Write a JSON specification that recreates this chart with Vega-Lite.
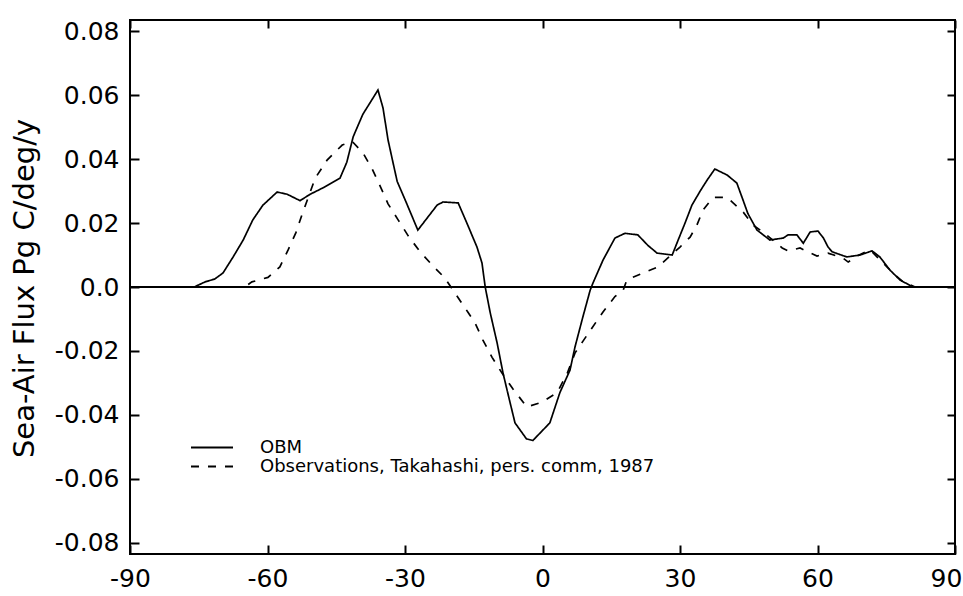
{
  "$schema": "https://vega.github.io/schema/vega-lite/v6.json",
  "width": 825,
  "height": 534,
  "autosize": {"type": "none"},
  "padding": {"left": 130, "top": 20, "right": 8, "bottom": 42},
  "background": "white",
  "config": {
    "view": {"stroke": "black", "strokeWidth": 2},
    "font": "DejaVu Sans"
  },
  "datasets": {
    "curves": [
      {"lat": -90, "flux": 0, "series": "OBM"},
      {"lat": -76, "flux": 0, "series": "OBM"},
      {"lat": -73.6, "flux": 0.0016, "series": "OBM"},
      {"lat": -71.5, "flux": 0.0025, "series": "OBM"},
      {"lat": -69.7, "flux": 0.0044, "series": "OBM"},
      {"lat": -67.5, "flux": 0.0094, "series": "OBM"},
      {"lat": -65.3, "flux": 0.0147, "series": "OBM"},
      {"lat": -63.2, "flux": 0.021, "series": "OBM"},
      {"lat": -61, "flux": 0.0256, "series": "OBM"},
      {"lat": -57.9, "flux": 0.0297, "series": "OBM"},
      {"lat": -55.7, "flux": 0.029, "series": "OBM"},
      {"lat": -52.9, "flux": 0.027, "series": "OBM"},
      {"lat": -50.7, "flux": 0.029, "series": "OBM"},
      {"lat": -47.9, "flux": 0.031, "series": "OBM"},
      {"lat": -44.2, "flux": 0.034, "series": "OBM"},
      {"lat": -42.7, "flux": 0.039, "series": "OBM"},
      {"lat": -41.3, "flux": 0.047, "series": "OBM"},
      {"lat": -39.2, "flux": 0.054, "series": "OBM"},
      {"lat": -35.9, "flux": 0.0616, "series": "OBM"},
      {"lat": -34.8, "flux": 0.056, "series": "OBM"},
      {"lat": -33.7, "flux": 0.046, "series": "OBM"},
      {"lat": -32.6, "flux": 0.0388, "series": "OBM"},
      {"lat": -31.7, "flux": 0.033, "series": "OBM"},
      {"lat": -29.6, "flux": 0.026, "series": "OBM"},
      {"lat": -27.2, "flux": 0.0178, "series": "OBM"},
      {"lat": -23, "flux": 0.0256, "series": "OBM"},
      {"lat": -21.7, "flux": 0.0266, "series": "OBM"},
      {"lat": -18.4, "flux": 0.0263, "series": "OBM"},
      {"lat": -16.5, "flux": 0.02, "series": "OBM"},
      {"lat": -14.3, "flux": 0.0125, "series": "OBM"},
      {"lat": -13.2, "flux": 0.0075, "series": "OBM"},
      {"lat": -12.5, "flux": 0, "series": "OBM"},
      {"lat": -11.4, "flux": -0.0081, "series": "OBM"},
      {"lat": -9.9, "flux": -0.0175, "series": "OBM"},
      {"lat": -8.6, "flux": -0.027, "series": "OBM"},
      {"lat": -7.1, "flux": -0.036, "series": "OBM"},
      {"lat": -6, "flux": -0.0425, "series": "OBM"},
      {"lat": -3.5, "flux": -0.0475, "series": "OBM"},
      {"lat": -2.1, "flux": -0.048, "series": "OBM"},
      {"lat": 1.6, "flux": -0.0425, "series": "OBM"},
      {"lat": 3.8, "flux": -0.033, "series": "OBM"},
      {"lat": 6, "flux": -0.026, "series": "OBM"},
      {"lat": 7.1, "flux": -0.0187, "series": "OBM"},
      {"lat": 8.8, "flux": -0.0094, "series": "OBM"},
      {"lat": 10.4, "flux": -0.001, "series": "OBM"},
      {"lat": 11, "flux": 0.0012, "series": "OBM"},
      {"lat": 13.2, "flux": 0.0084, "series": "OBM"},
      {"lat": 15.8, "flux": 0.0153, "series": "OBM"},
      {"lat": 18, "flux": 0.0168, "series": "OBM"},
      {"lat": 20.8, "flux": 0.0163, "series": "OBM"},
      {"lat": 23, "flux": 0.013, "series": "OBM"},
      {"lat": 25, "flux": 0.0106, "series": "OBM"},
      {"lat": 28.3, "flux": 0.01, "series": "OBM"},
      {"lat": 29.6, "flux": 0.0147, "series": "OBM"},
      {"lat": 31.1, "flux": 0.02, "series": "OBM"},
      {"lat": 32.6, "flux": 0.0256, "series": "OBM"},
      {"lat": 34.4, "flux": 0.03, "series": "OBM"},
      {"lat": 35.9, "flux": 0.0334, "series": "OBM"},
      {"lat": 37.6, "flux": 0.0369, "series": "OBM"},
      {"lat": 40.3, "flux": 0.035, "series": "OBM"},
      {"lat": 42.4, "flux": 0.0325, "series": "OBM"},
      {"lat": 43.8, "flux": 0.027, "series": "OBM"},
      {"lat": 44.8, "flux": 0.023, "series": "OBM"},
      {"lat": 46.8, "flux": 0.0178, "series": "OBM"},
      {"lat": 49.6, "flux": 0.0147, "series": "OBM"},
      {"lat": 52.5, "flux": 0.0153, "series": "OBM"},
      {"lat": 53.6, "flux": 0.0163, "series": "OBM"},
      {"lat": 55.5, "flux": 0.0163, "series": "OBM"},
      {"lat": 56.9, "flux": 0.0137, "series": "OBM"},
      {"lat": 58.4, "flux": 0.0172, "series": "OBM"},
      {"lat": 60.1, "flux": 0.0175, "series": "OBM"},
      {"lat": 61.3, "flux": 0.0153, "series": "OBM"},
      {"lat": 62.3, "flux": 0.0125, "series": "OBM"},
      {"lat": 63.2, "flux": 0.011, "series": "OBM"},
      {"lat": 66.4, "flux": 0.0094, "series": "OBM"},
      {"lat": 69.3, "flux": 0.01, "series": "OBM"},
      {"lat": 71.9, "flux": 0.0113, "series": "OBM"},
      {"lat": 73.6, "flux": 0.0094, "series": "OBM"},
      {"lat": 75.8, "flux": 0.0053, "series": "OBM"},
      {"lat": 78, "flux": 0.0022, "series": "OBM"},
      {"lat": 80.8, "flux": 0, "series": "OBM"},
      {"lat": -90, "flux": 0, "series": "Observations, Takahashi, pers. comm, 1987"},
      {"lat": -65, "flux": 0, "series": "Observations, Takahashi, pers. comm, 1987"},
      {"lat": -63.4, "flux": 0.0016, "series": "Observations, Takahashi, pers. comm, 1987"},
      {"lat": -59.9, "flux": 0.003, "series": "Observations, Takahashi, pers. comm, 1987"},
      {"lat": -57.3, "flux": 0.0063, "series": "Observations, Takahashi, pers. comm, 1987"},
      {"lat": -55.5, "flux": 0.0116, "series": "Observations, Takahashi, pers. comm, 1987"},
      {"lat": -53.8, "flux": 0.017, "series": "Observations, Takahashi, pers. comm, 1987"},
      {"lat": -52.5, "flux": 0.0225, "series": "Observations, Takahashi, pers. comm, 1987"},
      {"lat": -49.6, "flux": 0.034, "series": "Observations, Takahashi, pers. comm, 1987"},
      {"lat": -47, "flux": 0.0397, "series": "Observations, Takahashi, pers. comm, 1987"},
      {"lat": -43.7, "flux": 0.0444, "series": "Observations, Takahashi, pers. comm, 1987"},
      {"lat": -41.5, "flux": 0.0455, "series": "Observations, Takahashi, pers. comm, 1987"},
      {"lat": -39.2, "flux": 0.042, "series": "Observations, Takahashi, pers. comm, 1987"},
      {"lat": -37.2, "flux": 0.037, "series": "Observations, Takahashi, pers. comm, 1987"},
      {"lat": -35.4, "flux": 0.0315, "series": "Observations, Takahashi, pers. comm, 1987"},
      {"lat": -33.7, "flux": 0.026, "series": "Observations, Takahashi, pers. comm, 1987"},
      {"lat": -31.5, "flux": 0.021, "series": "Observations, Takahashi, pers. comm, 1987"},
      {"lat": -29.3, "flux": 0.016, "series": "Observations, Takahashi, pers. comm, 1987"},
      {"lat": -26.7, "flux": 0.011, "series": "Observations, Takahashi, pers. comm, 1987"},
      {"lat": -24.1, "flux": 0.0069, "series": "Observations, Takahashi, pers. comm, 1987"},
      {"lat": -21.3, "flux": 0.0028, "series": "Observations, Takahashi, pers. comm, 1987"},
      {"lat": -19.1, "flux": -0.0019, "series": "Observations, Takahashi, pers. comm, 1987"},
      {"lat": -16.3, "flux": -0.0078, "series": "Observations, Takahashi, pers. comm, 1987"},
      {"lat": -14.7, "flux": -0.0113, "series": "Observations, Takahashi, pers. comm, 1987"},
      {"lat": -13, "flux": -0.0166, "series": "Observations, Takahashi, pers. comm, 1987"},
      {"lat": -11, "flux": -0.022, "series": "Observations, Takahashi, pers. comm, 1987"},
      {"lat": -8.8, "flux": -0.027, "series": "Observations, Takahashi, pers. comm, 1987"},
      {"lat": -6.4, "flux": -0.032, "series": "Observations, Takahashi, pers. comm, 1987"},
      {"lat": -3.4, "flux": -0.0375, "series": "Observations, Takahashi, pers. comm, 1987"},
      {"lat": -0.1, "flux": -0.036, "series": "Observations, Takahashi, pers. comm, 1987"},
      {"lat": 3.2, "flux": -0.033, "series": "Observations, Takahashi, pers. comm, 1987"},
      {"lat": 5.4, "flux": -0.027, "series": "Observations, Takahashi, pers. comm, 1987"},
      {"lat": 7.1, "flux": -0.0206, "series": "Observations, Takahashi, pers. comm, 1987"},
      {"lat": 8.8, "flux": -0.017, "series": "Observations, Takahashi, pers. comm, 1987"},
      {"lat": 10.8, "flux": -0.0128, "series": "Observations, Takahashi, pers. comm, 1987"},
      {"lat": 13.2, "flux": -0.0078, "series": "Observations, Takahashi, pers. comm, 1987"},
      {"lat": 15.8, "flux": -0.003, "series": "Observations, Takahashi, pers. comm, 1987"},
      {"lat": 17.6, "flux": -0.001, "series": "Observations, Takahashi, pers. comm, 1987"},
      {"lat": 18.4, "flux": 0.0022, "series": "Observations, Takahashi, pers. comm, 1987"},
      {"lat": 21.3, "flux": 0.004, "series": "Observations, Takahashi, pers. comm, 1987"},
      {"lat": 25.2, "flux": 0.0063, "series": "Observations, Takahashi, pers. comm, 1987"},
      {"lat": 30, "flux": 0.0125, "series": "Observations, Takahashi, pers. comm, 1987"},
      {"lat": 32.2, "flux": 0.0156, "series": "Observations, Takahashi, pers. comm, 1987"},
      {"lat": 33.7, "flux": 0.0194, "series": "Observations, Takahashi, pers. comm, 1987"},
      {"lat": 35, "flux": 0.024, "series": "Observations, Takahashi, pers. comm, 1987"},
      {"lat": 37.2, "flux": 0.028, "series": "Observations, Takahashi, pers. comm, 1987"},
      {"lat": 40.3, "flux": 0.028, "series": "Observations, Takahashi, pers. comm, 1987"},
      {"lat": 43.8, "flux": 0.0234, "series": "Observations, Takahashi, pers. comm, 1987"},
      {"lat": 45.9, "flux": 0.0194, "series": "Observations, Takahashi, pers. comm, 1987"},
      {"lat": 48.1, "flux": 0.0172, "series": "Observations, Takahashi, pers. comm, 1987"},
      {"lat": 52.3, "flux": 0.0122, "series": "Observations, Takahashi, pers. comm, 1987"},
      {"lat": 53.6, "flux": 0.0113, "series": "Observations, Takahashi, pers. comm, 1987"},
      {"lat": 56.2, "flux": 0.0122, "series": "Observations, Takahashi, pers. comm, 1987"},
      {"lat": 57.9, "flux": 0.011, "series": "Observations, Takahashi, pers. comm, 1987"},
      {"lat": 59.9, "flux": 0.0097, "series": "Observations, Takahashi, pers. comm, 1987"},
      {"lat": 62.3, "flux": 0.0106, "series": "Observations, Takahashi, pers. comm, 1987"},
      {"lat": 65.6, "flux": 0.009, "series": "Observations, Takahashi, pers. comm, 1987"},
      {"lat": 66.7, "flux": 0.0078, "series": "Observations, Takahashi, pers. comm, 1987"},
      {"lat": 68.6, "flux": 0.0097, "series": "Observations, Takahashi, pers. comm, 1987"},
      {"lat": 71.5, "flux": 0.0116, "series": "Observations, Takahashi, pers. comm, 1987"},
      {"lat": 74.3, "flux": 0.0075, "series": "Observations, Takahashi, pers. comm, 1987"},
      {"lat": 76.9, "flux": 0.0038, "series": "Observations, Takahashi, pers. comm, 1987"},
      {"lat": 78.7, "flux": 0.0016, "series": "Observations, Takahashi, pers. comm, 1987"},
      {"lat": 81.3, "flux": 0, "series": "Observations, Takahashi, pers. comm, 1987"}
    ],
    "zero": [{"lat": -90, "flux": 0}, {"lat": 90, "flux": 0}]
  },
  "resolve": {"axis": {"x": "independent", "y": "independent"}},
  "layer": [
    {
      "data": {"name": "zero"},
      "mark": {"type": "line", "color": "black", "strokeWidth": 2},
      "encoding": {
        "x": {
          "field": "lat", "type": "quantitative",
          "scale": {"domain": [-90, 90], "nice": false, "zero": false},
          "axis": {"orient": "top", "values": [-90, -60, -30, 0, 30, 60, 90], "labels": false, "domain": false, "grid": false, "ticks": true, "tickSize": -8, "tickWidth": 2, "tickColor": "black", "title": null}
        },
        "y": {
          "field": "flux", "type": "quantitative",
          "scale": {"domain": [-0.0835, 0.0835], "nice": false, "zero": false},
          "axis": {"orient": "right", "values": [-0.08, -0.06, -0.04, -0.02, 0, 0.02, 0.04, 0.06, 0.08], "labels": false, "domain": false, "grid": false, "ticks": true, "tickSize": -8, "tickWidth": 2, "tickColor": "black", "title": null}
        }
      }
    },
    {
      "data": {"name": "curves"},
      "mark": {"type": "line", "color": "black", "strokeWidth": 1.7},
      "encoding": {
        "x": {
          "field": "lat", "type": "quantitative",
          "scale": {"domain": [-90, 90], "nice": false, "zero": false},
          "axis": {"orient": "bottom", "values": [-90, -60, -30, 0, 30, 60, 90], "labelExpr": "'' + datum.value", "labelFont": "DejaVu Sans", "labelFontSize": 25, "labelColor": "black", "labelPadding": 21, "labelFlush": false, "labelOverlap": false, "labelOffset": {"condition": {"test": "datum.value == 90", "value": -9}, "value": 0}, "domain": false, "grid": false, "tickSize": -9, "tickWidth": 2, "tickColor": "black", "title": null}
        },
        "y": {
          "field": "flux", "type": "quantitative",
          "scale": {"domain": [-0.0835, 0.0835], "nice": false, "zero": false},
          "axis": {"orient": "left", "values": [-0.08, -0.06, -0.04, -0.02, 0, 0.02, 0.04, 0.06, 0.08], "labelExpr": "datum.value == 0 ? '0.0' : (datum.value < 0 ? '-' : '') + format(abs(datum.value), '.2f')", "labelFont": "DejaVu Sans", "labelFontSize": 25, "labelColor": "black", "labelPadding": 20, "labelFlush": false, "labelOverlap": false, "domain": false, "grid": false, "tickSize": -9, "tickWidth": 2, "tickColor": "black", "title": "Sea-Air Flux Pg C/deg/y", "titleFont": "DejaVu Sans", "titleFontSize": 29, "titleFontWeight": "normal", "titleColor": "black", "titleAngle": -90, "titleX": -106, "titleY": 268, "titleAlign": "center", "titleBaseline": "middle"}
        },
        "strokeDash": {
          "field": "series", "type": "nominal",
          "scale": {"domain": ["OBM", "Observations, Takahashi, pers. comm, 1987"], "range": [[1, 0], [8, 9]]},
          "legend": {"orient": "none", "legendX": 60, "legendY": 418, "title": null, "padding": 0, "symbolType": "stroke", "symbolSize": 1764, "symbolStrokeWidth": 2, "symbolStrokeColor": "black", "labelFont": "DejaVu Sans", "labelFontSize": 18, "labelColor": "black", "labelOffset": 26, "labelLimit": 0, "clipHeight": 19, "rowPadding": 0}
        }
      }
    }
  ]
}
